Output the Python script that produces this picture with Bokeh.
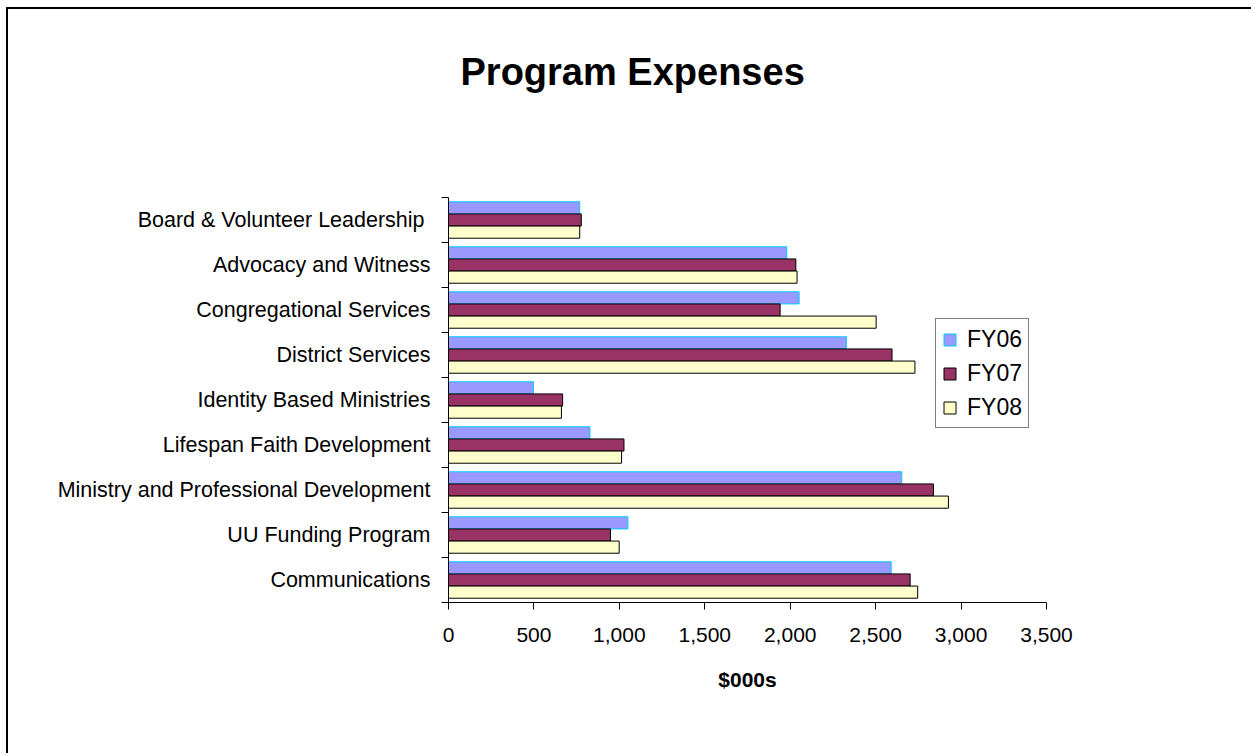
from bokeh.plotting import figure
from bokeh.models import (ColumnDataSource, Range1d, LinearAxis, FixedTicker,
                          NumeralTickFormatter, Legend, LegendItem, Title)
from bokeh.transform import dodge
from bokeh.embed import file_html
from bokeh.resources import INLINE

# ---- data (top to bottom as displayed) ----
categories = [
    "Board  & Volunteer Leadership",
    "Advocacy and Witness",
    "Congregational Services",
    "District Services",
    "Identity Based Ministries",
    "Lifespan Faith Development",
    "Ministry and Professional Development",
    "UU Funding Program",
    "Communications",
]
fy06 = [768, 1980, 2052, 2329, 497, 828, 2653, 1050, 2591]
fy07 = [777, 2033, 1941, 2596, 668, 1027, 2838, 948, 2702]
fy08 = [768, 2040, 2503, 2730, 661, 1013, 2926, 999, 2746]
series = ["FY06", "FY07", "FY08"]
x_ticks = [0, 500, 1000, 1500, 2000, 2500, 3000, 3500]

FONT = "Liberation Sans"
n = len(categories)
centers = [n - 1 - i + 0.5 for i in range(n)]
bounds = list(range(n + 1))

source = ColumnDataSource(dict(y=centers, cat=categories, fy06=fy06, fy07=fy07, fy08=fy08))

p = figure(width=1245, height=746, x_range=Range1d(0, 3500), y_range=Range1d(0, n),
           output_backend="svg", toolbar_location=None,
           x_axis_type=None, y_axis_type=None,
           min_border_left=440, min_border_right=207, min_border_top=188, min_border_bottom=153)
p.outline_line_color = None
p.background_fill_color = "white"
p.border_fill_color = "white"
p.styles = {"border-left": "2px solid black", "border-top": "2px solid black",
            "margin-left": "6px", "margin-top": "7px"}

p.title = Title(text="Program Expenses", align="left", offset=12, standoff=0,
                text_font=FONT, text_font_size="38px", text_font_style="bold", text_color="black")
# blank spacer between the title and the plot area
p.add_layout(Title(text=" ", standoff=102, text_font_size="1px"), "above")

# axes
xaxis = LinearAxis(ticker=FixedTicker(ticks=x_ticks), formatter=NumeralTickFormatter(format="0,0"),
                   axis_label="$000s")
xaxis.major_tick_out = 7
xaxis.major_tick_in = 0
xaxis.minor_tick_out = 0
xaxis.minor_tick_in = 0
xaxis.axis_line_color = "black"
xaxis.major_tick_line_color = "black"
xaxis.major_label_text_font = FONT
xaxis.major_label_text_font_size = "21px"
xaxis.major_label_text_color = "black"
xaxis.major_label_standoff = 18
xaxis.axis_label_text_font = FONT
xaxis.axis_label_text_font_size = "21px"
xaxis.axis_label_text_font_style = "bold"
xaxis.axis_label_text_color = "black"
xaxis.axis_label_standoff = 23
p.add_layout(xaxis, "below")

yaxis = LinearAxis(ticker=FixedTicker(ticks=centers, minor_ticks=bounds),
                   major_label_overrides={c: lab for c, lab in zip(centers, categories)})
yaxis.major_tick_out = 0
yaxis.major_tick_in = 0
yaxis.minor_tick_out = 7
yaxis.minor_tick_in = 0
yaxis.minor_tick_line_color = "black"
yaxis.axis_line_color = "black"
yaxis.major_label_text_font = FONT
yaxis.major_label_text_font_size = "21.5px"
yaxis.major_label_text_color = "black"
yaxis.major_label_standoff = 11
p.add_layout(yaxis, "left")

bh = 0.27
r1 = p.hbar(y=dodge("y", bh, range=p.y_range), left=0, right="fy06", height=bh, source=source,
            fill_color="#9999FF", line_color="#00CCFF", line_width=1)
r2 = p.hbar(y=dodge("y", 0, range=p.y_range), left=0, right="fy07", height=bh, source=source,
            fill_color="#993366", line_color="black", line_width=1)
r3 = p.hbar(y=dodge("y", -bh, range=p.y_range), left=0, right="fy08", height=bh, source=source,
            fill_color="#FFFFCC", line_color="black", line_width=1)

legend = Legend(items=[LegendItem(label=series[0], renderers=[r1]),
                       LegendItem(label=series[1], renderers=[r2]),
                       LegendItem(label=series[2], renderers=[r3])],
                location=(487, 174))
legend.label_text_font = FONT
legend.label_text_font_size = "23px"
legend.label_text_color = "black"
legend.glyph_width = 15
legend.glyph_height = 15
legend.label_height = 28
legend.label_standoff = 10
legend.spacing = 6
legend.padding = 6
legend.margin = 0
legend.border_line_color = "black"
legend.border_line_width = 1
legend.background_fill_color = "white"
p.add_layout(legend)

open("out.html", "w").write(file_html(p, INLINE))
